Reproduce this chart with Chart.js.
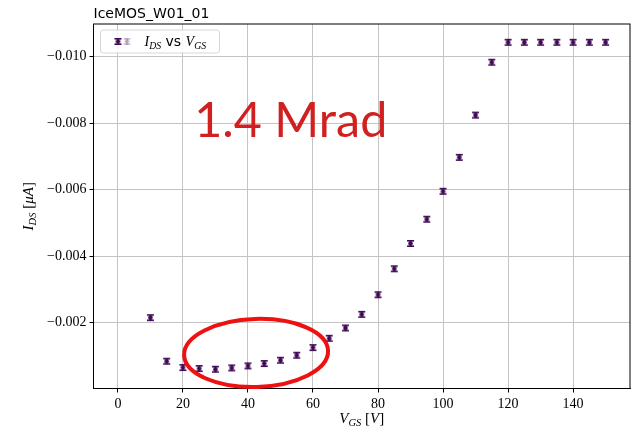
<!DOCTYPE html>
<html>
<head>
<meta charset="utf-8">
<script src="https://cdn.jsdelivr.net/npm/chart.js@4"></script>
<style>
  html, body { margin: 0; padding: 0; background: #fff; }
  #wrap { width: 636px; height: 428px; }
</style>
</head>
<body>
<div id="wrap"><canvas id="myChart" width="636" height="428"></canvas></div>
<script>
const chartTitle = 'IceMOS_W01_01';
const vgs = [10, 15, 20, 25, 30, 35, 40, 45, 50, 55, 60, 65, 70, 75, 80,
  85, 90, 95, 100, 105, 110, 115, 120, 125, 130, 135, 140, 145, 150];
const ids = [-0.00215, -0.00084, -0.00065, -0.00062, -0.00060, -0.00064, -0.00070,
  -0.00077, -0.00087, -0.00102, -0.00125, -0.00153, -0.00184, -0.00225, -0.00284,
  -0.00362, -0.00438, -0.00511, -0.00595, -0.00697, -0.00824, -0.00983,
  -0.01043, -0.01043, -0.01043, -0.01043, -0.01043, -0.01043, -0.01043];
const xTicks = [0, 20, 40, 60, 80, 100, 120, 140];
const yTicks = [-0.010, -0.008, -0.006, -0.004, -0.002];
const doseLabel = '1.4 Mrad';

const markerColor = '#3f0a55';
const serif = '"Liberation Serif", "DejaVu Serif", serif';

// errorbar-like glyph used as the point style
function makeGlyph(alpha) {
  const c = document.createElement('canvas');
  c.width = 9; c.height = 9;
  const g = c.getContext('2d');
  g.globalAlpha = alpha;
  g.fillStyle = markerColor;
  g.fillRect(1, 1, 7, 1.6);   // top cap
  g.fillRect(1, 6.4, 7, 1.6); // bottom cap
  g.fillRect(3.6, 1, 1.8, 7);
  g.beginPath();
  g.arc(4.5, 4.5, 2.3, 0, Math.PI * 2);
  g.fill();
  return c;
}
const glyph = makeGlyph(1);
const glyphFaded = makeGlyph(0.25);

// draw text pieces with italics / subscripts
function drawMath(ctx, parts, x, y, size, align) {
  const fontOf = p => (p.italic ? 'italic ' : '') + (p.sub ? size * 0.7 : size) + 'px ' + (p.sans ? '"DejaVu Sans", sans-serif' : serif);
  let w = 0;
  parts.forEach(p => { ctx.font = fontOf(p); w += ctx.measureText(p.t).width; });
  let cx = align === 'center' ? x - w / 2 : x;
  ctx.textAlign = 'left';
  ctx.textBaseline = 'alphabetic';
  parts.forEach(p => {
    ctx.font = fontOf(p);
    ctx.fillText(p.t, cx, p.sub ? y + size * 0.2 : y);
    cx += ctx.measureText(p.t).width;
  });
}

const extras = {
  id: 'extras',
  afterDraw(chart) {
    const ctx = chart.ctx;
    const a = chart.chartArea;
    const xs = chart.scales.x, ys = chart.scales.y;
    ctx.save();
    // frame
    ctx.strokeStyle = '#000';
    ctx.lineWidth = 1;
    ctx.strokeRect(a.left, a.top, a.right - a.left, a.bottom - a.top);

    // title
    ctx.fillStyle = '#000';
    ctx.font = '14px "DejaVu Sans", sans-serif';
    ctx.textAlign = 'left';
    ctx.textBaseline = 'alphabetic';
    ctx.fillText(chartTitle, a.left, 18);

    // axis titles
    drawMath(ctx, [{t: 'V', italic: true}, {t: 'GS', italic: true, sub: true}, {t: ' ['}, {t: 'V', italic: true}, {t: ']'}],
      (a.left + a.right) / 2, 423, 15, 'center');
    ctx.save();
    ctx.translate(33, (a.top + a.bottom) / 2);
    ctx.rotate(-Math.PI / 2);
    drawMath(ctx, [{t: 'I', italic: true}, {t: 'DS', italic: true, sub: true}, {t: ' ['}, {t: 'μA', italic: true}, {t: ']'}],
      0, 0, 15, 'center');
    ctx.restore();

    // legend
    const lx = a.left + 7, ly = a.top + 6, lw = 119, lh = 23;
    ctx.fillStyle = 'rgba(255,255,255,0.85)';
    ctx.strokeStyle = '#d6d6d6';
    ctx.beginPath();
    ctx.roundRect(lx, ly, lw, lh, 3);
    ctx.fill();
    ctx.stroke();
    ctx.drawImage(glyph, lx + 13, ly + 7);
    ctx.drawImage(glyphFaded, lx + 22, ly + 7);
    ctx.fillStyle = '#000';
    drawMath(ctx, [{t: 'I', italic: true}, {t: 'DS', italic: true, sub: true}, {t: ' vs ', sans: true},
      {t: 'V', italic: true}, {t: 'GS', italic: true, sub: true}], lx + 44, ly + 16, 14, 'left');

    // dose annotation
    ctx.fillStyle = '#d02020';
    let fs = 50;
    ctx.font = fs + 'px Lato, "Open Sans", sans-serif';
    fs = fs * 193 / ctx.measureText(doseLabel).width;
    ctx.font = fs + 'px Lato, "Open Sans", sans-serif';
    ctx.textAlign = 'left';
    ctx.fillText(doseLabel, xs.getPixelForValue(23.5), ys.getPixelForValue(-0.00758));

    // ellipse around the low-current region
    ctx.strokeStyle = '#ee1111';
    ctx.lineWidth = 4;
    ctx.beginPath();
    ctx.ellipse(xs.getPixelForValue(42.5), ys.getPixelForValue(-0.00109), 72, 34, -0.03, 0, Math.PI * 2);
    ctx.stroke();
    ctx.restore();
  }
};

const ctx = document.getElementById('myChart').getContext('2d');
new Chart(ctx, {
  type: 'scatter',
  data: {
    datasets: [{
      label: 'IDS vs VGS',
      data: vgs.map((v, i) => ({x: v, y: ids[i]})),
      pointStyle: glyph,
      pointRadius: 4,
      showLine: false
    }]
  },
  options: {
    responsive: false,
    animation: false,
    events: [],
    layout: { padding: { left: 0, right: 6, top: 24, bottom: 0 } },
    plugins: { legend: { display: false }, title: { display: false }, tooltip: { enabled: false } },
    scales: {
      x: {
        type: 'linear',
        min: -7.5, max: 157.5,
        afterFit: s => { s.height = 39.5; },
        afterBuildTicks: s => { s.ticks = xTicks.map(v => ({value: v})); },
        grid: { color: '#c4c4c4', lineWidth: 1, tickLength: 4, tickColor: '#000' },
        border: { color: '#000' },
        ticks: { color: '#000', padding: 3, maxRotation: 0, font: { family: serif, size: 14 },
          callback: v => String(v) }
      },
      y: {
        type: 'linear',
        reverse: true,
        min: -0.01098, max: -0.00002,
        afterFit: s => { s.width = 93.5; },
        afterBuildTicks: s => { s.ticks = yTicks.map(v => ({value: v})); },
        grid: { color: '#c4c4c4', lineWidth: 1, tickLength: 4, tickColor: '#000' },
        border: { color: '#000' },
        ticks: { color: '#000', padding: 3, font: { family: serif, size: 14 },
          callback: v => '\u2212' + Math.abs(v).toFixed(3) }
      }
    }
  },
  plugins: [extras]
});
</script>
</body>
</html>
